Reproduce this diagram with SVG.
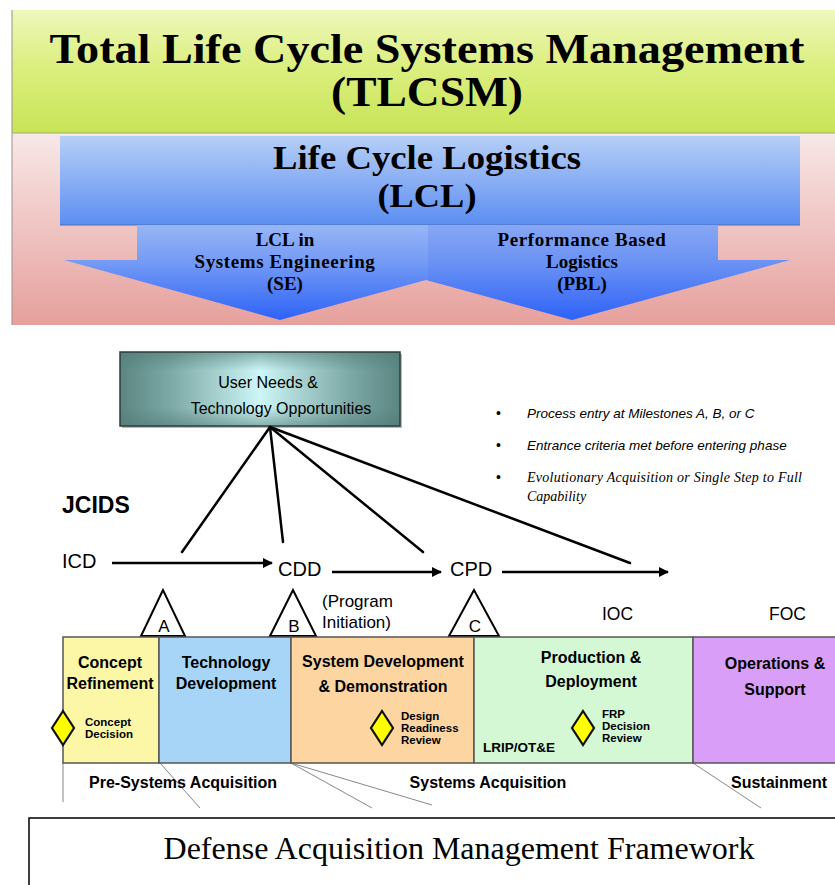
<svg xmlns="http://www.w3.org/2000/svg" width="835" height="885" viewBox="0 0 835 885">
  <defs>
    <linearGradient id="gGreen" x1="0" y1="0" x2="0" y2="1">
      <stop offset="0" stop-color="#eef8bc"/>
      <stop offset="0.45" stop-color="#dcef80"/>
      <stop offset="1" stop-color="#c8e456"/>
    </linearGradient>
    <linearGradient id="gPink" x1="0" y1="0" x2="0" y2="1">
      <stop offset="0" stop-color="#f8e8e8"/>
      <stop offset="1" stop-color="#e6a09c"/>
    </linearGradient>
    <linearGradient id="gLcl" x1="0" y1="0" x2="0" y2="1">
      <stop offset="0" stop-color="#b6cff7"/>
      <stop offset="1" stop-color="#5c8ef1"/>
    </linearGradient>
    <linearGradient id="gArrowL" gradientUnits="userSpaceOnUse" x1="0" y1="225" x2="0" y2="320">
      <stop offset="0" stop-color="#97b6f6"/>
      <stop offset="0.4" stop-color="#739af4"/>
      <stop offset="1" stop-color="#2e62f8"/>
    </linearGradient>
    <linearGradient id="gArrowR" gradientUnits="userSpaceOnUse" x1="0" y1="225" x2="0" y2="320">
      <stop offset="0" stop-color="#87a7f3"/>
      <stop offset="0.4" stop-color="#6b92f3"/>
      <stop offset="1" stop-color="#2e62f8"/>
    </linearGradient>
    <linearGradient id="gTealH" x1="0" y1="0" x2="1" y2="0">
      <stop offset="0" stop-color="#5b8682"/>
      <stop offset="0.18" stop-color="#7ca8a5"/>
      <stop offset="0.5" stop-color="#cdf6f6"/>
      <stop offset="0.82" stop-color="#7ca8a5"/>
      <stop offset="1" stop-color="#5b8682"/>
    </linearGradient>
    <linearGradient id="gTealV" x1="0" y1="0" x2="0" y2="1">
      <stop offset="0" stop-color="#4f7a76" stop-opacity="0.55"/>
      <stop offset="0.25" stop-color="#4f7a76" stop-opacity="0"/>
      <stop offset="0.75" stop-color="#4f7a76" stop-opacity="0"/>
      <stop offset="1" stop-color="#4f7a76" stop-opacity="0.55"/>
    </linearGradient>
    <marker id="arr" viewBox="0 0 10 10" refX="9" refY="5" markerWidth="4" markerHeight="4" orient="auto" markerUnits="strokeWidth">
      <path d="M0,0 L10,5 L0,10 z" fill="#000"/>
    </marker>
    <polygon id="dia" points="0,-17 11,0 0,17 -11,0"/>
  </defs>
  <style>
    .serifB { font-family: "Liberation Serif", "Times New Roman", serif; font-weight: bold; fill: #000; text-anchor: middle; }
    .sans { font-family: "Liberation Sans", Arial, sans-serif; fill: #000; }
    .mid { text-anchor: middle; }
    .b { font-weight: bold; }
    .phase { stroke: #555; stroke-width: 1.5; }
    .tri { fill: #fff; stroke: #000; stroke-width: 2; stroke-linejoin: miter; }
    .diamond { fill: #ffff00; stroke: #111; stroke-width: 2.2; }
    .small { font-family: "Liberation Sans", Arial, sans-serif; font-weight: bold; font-size: 11.5px; fill: #000; }
    .ray { stroke: #000; stroke-width: 2.5; fill: none; stroke-linecap: round; }
    .flow { stroke: #000; stroke-width: 2.5; fill: none; marker-end: url(#arr); }
    .thin { stroke: #888; stroke-width: 1; fill: none; }
    .bullet { font-family: "Liberation Sans", Arial, sans-serif; font-style: italic; font-size: 13.5px; fill: #000; }
  </style>

  <!-- TLCSM / LCL banner -->
  <g id="tlcsm">
    <rect x="12" y="10" width="823" height="123" fill="url(#gGreen)"/>
    <text class="serifB" x="427" y="63" font-size="42" textLength="755" lengthAdjust="spacingAndGlyphs">Total Life Cycle Systems Management</text>
    <text class="serifB" x="427" y="106" font-size="42" textLength="192" lengthAdjust="spacingAndGlyphs">(TLCSM)</text>
  </g>
  <g id="lcl-band">
    <rect x="12" y="133" width="823" height="192" fill="url(#gPink)"/>
    <line x1="12" y1="10" x2="12" y2="325" stroke="#9a8f8f" stroke-width="1"/>
    <line x1="12" y1="133" x2="835" y2="133" stroke="#9bb070" stroke-width="1"/>
  </g>
  <g id="lcl">
    <rect x="60" y="136" width="740" height="89" fill="url(#gLcl)"/>
    <line x1="60" y1="225" x2="800" y2="225" stroke="#4d6fb8" stroke-width="1"/>
    <text class="serifB" x="427" y="169" font-size="33" textLength="308" lengthAdjust="spacingAndGlyphs">Life Cycle Logistics</text>
    <text class="serifB" x="427" y="207" font-size="33" textLength="99" lengthAdjust="spacingAndGlyphs">(LCL)</text>
  </g>
  <g id="lcl-se">
    <polygon points="137,225 428,225 428,280 426,280 280,320 64,260 137,260" fill="url(#gArrowL)"/>
    <text class="serifB" x="285" y="246" font-size="19">LCL in</text>
    <text class="serifB" x="285" y="268" font-size="19" letter-spacing="0.6">Systems Engineering</text>
    <text class="serifB" x="285" y="290" font-size="19">(SE)</text>
  </g>
  <g id="pbl">
    <polygon points="428,225 718,225 718,260 790,260 572,320 426,280 428,280" fill="url(#gArrowR)"/>
    <text class="serifB" x="582" y="246" font-size="19" letter-spacing="0.6">Performance Based</text>
    <text class="serifB" x="582" y="268" font-size="19">Logistics</text>
    <text class="serifB" x="582" y="290" font-size="19">(PBL)</text>
  </g>

  <!-- Acquisition framework -->
  <g id="user-needs">
    <rect x="122" y="354" width="280" height="74" fill="#333" opacity="0.35"/>
    <rect x="120" y="352" width="280" height="74" fill="url(#gTealH)"/>
    <rect x="120" y="352" width="280" height="74" fill="url(#gTealV)" stroke="#2c3c3a" stroke-width="1.5"/>
    <text class="sans mid" x="268" y="388" font-size="16">User Needs &amp;</text>
    <text class="sans mid" x="281" y="414" font-size="16">Technology Opportunities</text>
  </g>

  <g id="notes">
    <text class="sans" x="496" y="418" font-size="14">•</text>
    <text class="bullet" x="527" y="418">Process entry at Milestones A, B, or C</text>
    <text class="sans" x="496" y="450" font-size="14">•</text>
    <text class="bullet" x="527" y="450">Entrance criteria met before entering phase</text>
    <text class="sans" x="496" y="482" font-size="14">•</text>
    <text x="527" y="482" font-family="Liberation Serif, 'Times New Roman', serif" font-style="italic" font-size="14" textLength="275">Evolutionary Acquisition or Single Step to Full</text>
    <text x="527" y="501" font-family="Liberation Serif, 'Times New Roman', serif" font-style="italic" font-size="14">Capability</text>
  </g>

  <g id="jcids">
    <text class="sans b" x="62" y="513" font-size="23">JCIDS</text>
  </g>
  <g id="icd"><text class="sans" x="62" y="568" font-size="20">ICD</text></g>
  <g id="cdd"><text class="sans" x="278" y="576" font-size="20">CDD</text></g>
  <g id="cpd"><text class="sans" x="450" y="576" font-size="20">CPD</text></g>
  <g id="ioc"><text class="sans" x="602" y="620" font-size="17.5">IOC</text></g>
  <g id="foc"><text class="sans" x="769" y="620" font-size="17.5">FOC</text></g>

  <g id="connectors">
    <line class="ray" x1="270" y1="427" x2="182" y2="552"/>
    <line class="ray" x1="270" y1="427" x2="283" y2="542"/>
    <line class="ray" x1="270" y1="427" x2="423" y2="552"/>
    <line class="ray" x1="270" y1="427" x2="630" y2="563"/>
    <line class="flow" x1="112" y1="563" x2="272" y2="563"/>
    <line class="flow" x1="332" y1="572" x2="441" y2="572"/>
    <line class="flow" x1="502" y1="572" x2="668" y2="572"/>
    <!-- phase grouping guides -->
    <line class="thin" x1="63" y1="763" x2="63" y2="802"/>
    <line class="thin" x1="160" y1="763" x2="200" y2="808"/>
    <line class="thin" x1="291" y1="763" x2="372" y2="808"/>
    <line class="thin" x1="291" y1="763" x2="432" y2="805"/>
    <line class="thin" x1="693" y1="763" x2="761" y2="808"/>
  </g>

  <g id="milestone-a">
    <polygon class="tri" points="163,590 141,636 185,636"/>
    <text class="sans mid" x="164" y="632" font-size="17">A</text>
  </g>
  <g id="milestone-b">
    <polygon class="tri" points="293,590 270,636 316,636"/>
    <text class="sans mid" x="294" y="632" font-size="17">B</text>
    <text class="sans" x="322" y="607" font-size="17">(Program</text>
    <text class="sans" x="322" y="628" font-size="17">Initiation)</text>
  </g>
  <g id="milestone-c">
    <polygon class="tri" points="474,590 449,636 499,636"/>
    <text class="sans mid" x="475" y="632" font-size="17">C</text>
  </g>

  <g id="concept-refinement">
    <rect class="phase" x="63" y="637" width="96" height="126" fill="#fbf7a6"/>
    <text class="sans mid b" x="110" y="668" font-size="16">Concept</text>
    <text class="sans mid b" x="110" y="689" font-size="16">Refinement</text>
    <use href="#dia" x="63" y="728" class="diamond"/>
    <text class="small" x="85" y="726">Concept</text>
    <text class="small" x="85" y="738">Decision</text>
  </g>
  <g id="technology-development">
    <rect class="phase" x="159" y="637" width="132" height="126" fill="#a6d5f8"/>
    <text class="sans mid b" x="226" y="668" font-size="16">Technology</text>
    <text class="sans mid b" x="226" y="689" font-size="16">Development</text>
  </g>
  <g id="sdd">
    <rect class="phase" x="291" y="637" width="183" height="126" fill="#fcd5a1"/>
    <text class="sans mid b" x="383" y="667" font-size="16">System Development</text>
    <text class="sans mid b" x="383" y="692" font-size="16">&amp; Demonstration</text>
    <use href="#dia" x="382" y="728" class="diamond"/>
    <text class="small" x="401" y="720">Design</text>
    <text class="small" x="401" y="732">Readiness</text>
    <text class="small" x="401" y="744">Review</text>
  </g>
  <g id="production-deployment">
    <rect class="phase" x="474" y="637" width="219" height="126" fill="#d3f8d3"/>
    <text class="sans mid b" x="591" y="663" font-size="16">Production &amp;</text>
    <text class="sans mid b" x="591" y="687" font-size="16">Deployment</text>
    <use href="#dia" x="583" y="728" class="diamond"/>
    <text class="small" x="602" y="718">FRP</text>
    <text class="small" x="602" y="730">Decision</text>
    <text class="small" x="602" y="742">Review</text>
    <text class="sans b" x="483" y="752" font-size="13.5">LRIP/OT&amp;E</text>
  </g>
  <g id="operations-support">
    <rect class="phase" x="693" y="637" width="145" height="126" fill="#d99ff8"/>
    <text class="sans mid b" x="775" y="669" font-size="16">Operations &amp;</text>
    <text class="sans mid b" x="775" y="695" font-size="16">Support</text>
  </g>

  <g id="acquisition-stages">
    <text class="sans mid b" x="183" y="788" font-size="16">Pre-Systems Acquisition</text>
    <text class="sans mid b" x="488" y="788" font-size="16">Systems Acquisition</text>
    <text class="sans mid b" x="779" y="788" font-size="16">Sustainment</text>
  </g>

  <g id="caption">
    <path d="M29,885 V818 H835" fill="none" stroke="#000" stroke-width="1.5"/>
    <text x="459" y="859" font-family="Liberation Serif, 'Times New Roman', serif" font-size="32" text-anchor="middle">Defense Acquisition Management Framework</text>
  </g>
</svg>
